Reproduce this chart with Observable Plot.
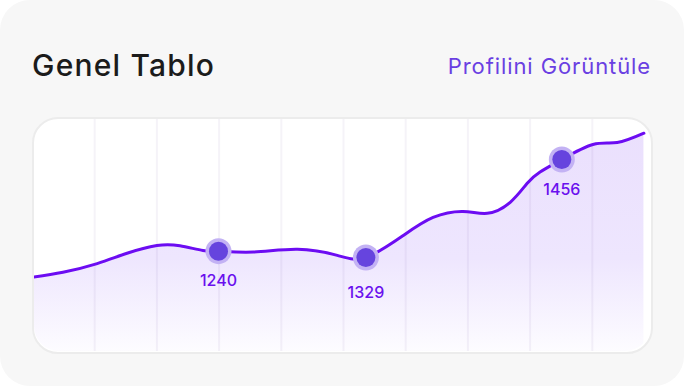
<!DOCTYPE html>
<html>
<head>
<meta charset="utf-8">
<script src="https://cdn.jsdelivr.net/npm/d3@7"></script>
<script src="https://cdn.jsdelivr.net/npm/@observablehq/plot@0.6"></script>
<style>
  html, body { margin: 0; padding: 0; background: #ffffff; }
  #card { position: relative; width: 684px; height: 386px; background: #f7f7f7; border-radius: 30px; overflow: hidden; font-family: Inter, "Noto Sans", sans-serif; }
  #title { position: absolute; left: 32px; top: 47px; font-size: 30px; font-weight: 500; color: #1b1b1b; letter-spacing: 1.2px; }
  #link { position: absolute; right: 33px; top: 53px; font-size: 22px; font-weight: 400; color: #6a3fe2; letter-spacing: 0.9px; }
  #panel { position: absolute; left: 32px; top: 117px; width: 617px; height: 233px; background: #ffffff; border: 2px solid #ececec; border-radius: 26px; }
  #chart { position: absolute; left: 0; top: 0; }
  #chart svg { clip-path: inset(119px 34px 35px 34px round 25px); }
</style>
</head>
<body>
<div id="card">
  <div id="title">Genel Tablo</div>
  <div id="link">Profilini Görüntüle</div>
  <div id="panel"></div>
  <div id="chart"></div>
</div>
<script>
// curve samples (x = column position, y = value)
const xs = [0.01, 0.49, 1.04, 1.52, 2.00, 2.37, 2.74, 2.99, 3.55, 4.26, 4.90, 5.36, 5.96, 6.44, 6.92, 7.31, 7.68, 7.95, 8.16, 8.51, 9.01, 9.40, 9.83];
const ys = [32.2, 34.3, 38.0, 42.4, 45.7, 45.6, 43.6, 43.3, 42.9, 44.1, 41.5, 40.6, 50.0, 57.7, 60.3, 59.5, 64.2, 72.2, 77.1, 82.5, 88.9, 89.7, 93.7];
// highlighted points
const markX = [2.99, 5.36, 8.51];
const markY = [43.3, 40.6, 82.5];
const markLabels = ["1240", "1329", "1456"];
// vertical grid columns
const gridX = [1, 2, 3, 4, 5, 6, 7, 8, 9];

const line = xs.map((x, i) => ({x, y: ys[i]}));
const marks = markX.map((x, i) => ({x, y: markY[i], label: markLabels[i]}));

const defs = () => {
  const d = d3.create("svg:defs");
  const g = d.append("linearGradient").attr("id", "areaGrad")
    .attr("gradientUnits", "userSpaceOnUse")
    .attr("x1", 0).attr("x2", 0).attr("y1", 118).attr("y2", 352);
  g.append("stop").attr("offset", "0").attr("stop-color", "#eadffd");
  g.append("stop").attr("offset", "0.6").attr("stop-color", "#eee6fe");
  g.append("stop").attr("offset", "1").attr("stop-color", "#fdfcff");
  return d.node();
};

const labelFont = {fill: "#6a10ee", fontSize: 16, fontWeight: 500, fontFamily: "Inter, sans-serif"};

const plot = Plot.plot({
  width: 684,
  height: 386,
  marginLeft: 32,
  marginRight: 30,
  marginTop: 118,
  marginBottom: 34,
  x: {domain: [0, 10], axis: null},
  y: {domain: [0, 100], axis: null},
  style: {background: "transparent", overflow: "visible"},
  marks: [
    defs,
    Plot.areaY(line, {x: "x", y: "y", curve: "natural", fill: "url(#areaGrad)"}),
    Plot.ruleX(gridX, {stroke: "#5a3a8a", strokeOpacity: 0.06, strokeWidth: 2}),
    Plot.lineY(line, {x: "x", y: "y", curve: "natural", stroke: "#6c0cf2", strokeWidth: 3}),
    Plot.dot(marks, {x: "x", y: "y", r: 13, fill: "#c3b2f4", stroke: "none"}),
    Plot.dot(marks, {x: "x", y: "y", r: 9.5, fill: "#6644de", stroke: "none"}),
    Plot.text(marks, {x: "x", y: "y", text: "label", filter: d => d.label !== "1329", dy: 30, ...labelFont}),
    Plot.text(marks, {x: "x", y: "y", text: "label", filter: d => d.label === "1329", dy: 35, ...labelFont})
  ]
});
document.getElementById("chart").appendChild(plot);
</script>
</body>
</html>
